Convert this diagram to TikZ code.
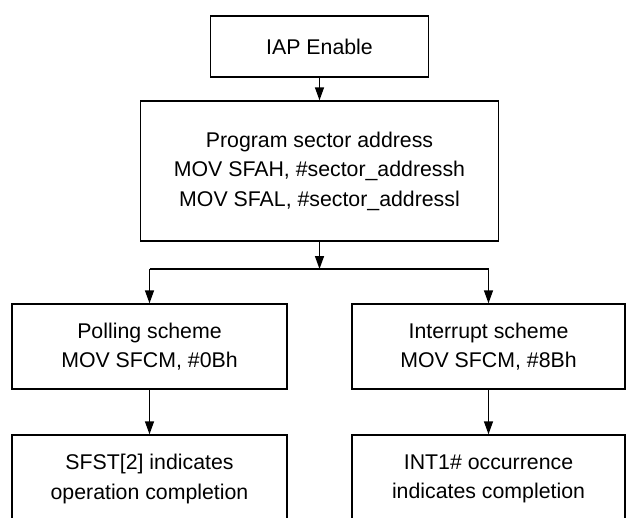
\documentclass[tikz,border=0pt]{standalone}
\usepackage{fontspec}
\setmainfont{Liberation Sans}
\usetikzlibrary{arrows.meta}
\begin{document}
\begin{tikzpicture}[x=1pt,y=1pt,
  box/.style={draw, line width=1.4pt, align=center, inner sep=0pt,
    font=\fontsize{21.3}{29.5}\selectfont},
  arr/.style={line width=1.4pt, -{Triangle[width=9pt,length=13pt]}},
  ln/.style={line width=1.4pt}]
\clip (0,0) rectangle (626,-517);
\fill[white] (0,0) rectangle (626,-517);
\node[box, minimum width=218pt, minimum height=61pt] (iap) at (319.5,-46.5) {IAP Enable};
\node[box, minimum width=358pt, minimum height=140pt] (prog) at (319.5,-171)
  {Program sector address\\MOV SFAH, \#sector\_addressh\\MOV SFAL, \#sector\_addressl};
\node[box, minimum width=275pt, minimum height=85pt] (poll) at (149.5,-346.5)
  {Polling scheme\\MOV SFCM, \#0Bh};
\node[box, minimum width=273pt, minimum height=85pt] (intr) at (488.5,-346.5)
  {Interrupt scheme\\MOV SFCM, \#8Bh};
\node[box, minimum width=275pt, minimum height=88pt] (sfst) at (149.5,-479)
  {SFST[2] indicates\\operation completion};
\node[box, minimum width=273pt, minimum height=88pt] (int1) at (488.5,-479)
  {INT1\# occurrence\\indicates completion};
\coordinate (j) at (319.5,-269);
\draw[arr] (iap.south) -- (prog.north);
\draw[arr] (prog.south) -- (j);
\draw[ln] (poll.north |- j) -- (intr.north |- j);
\draw[arr] (poll.north |- j) -- (poll.north);
\draw[arr] (intr.north |- j) -- (intr.north);
\draw[arr] (poll.south) -- (sfst.north);
\draw[arr] (intr.south) -- (int1.north);
\end{tikzpicture}
\end{document}
